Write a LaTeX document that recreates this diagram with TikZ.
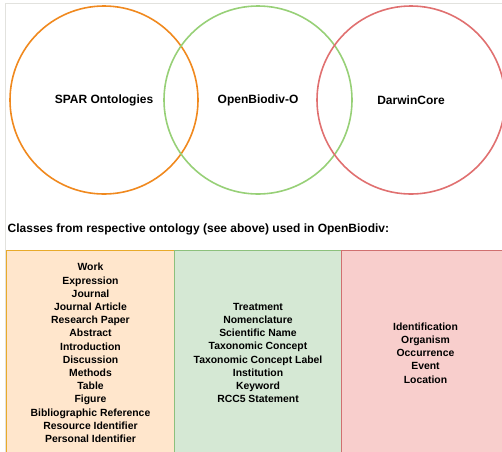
\documentclass[tikz,border=0pt]{standalone}
\usepackage{fontspec}
\setmainfont{Liberation Sans}

\definecolor{framegray}{HTML}{E2E2DE}
\definecolor{sparline}{HTML}{F0891E}
\definecolor{oboline}{HTML}{97D077}
\definecolor{dwcline}{HTML}{E07070}
\definecolor{sparfill}{HTML}{FFE6CC}
\definecolor{sparedge}{HTML}{E8AA2A}
\definecolor{obofill}{HTML}{D5E8D4}
\definecolor{oboedge}{HTML}{8CC07C}
\definecolor{dwcfill}{HTML}{F8CECC}
\definecolor{dwcedge}{HTML}{D07070}

\begin{document}
\begin{tikzpicture}[x=1pt,y=-1pt,
  onto/.style={circle,draw,line width=1.6pt,minimum size=188pt,inner sep=0pt,
    font=\bfseries\fontsize{12}{14}\selectfont},
  classbox/.style={draw,line width=1pt,minimum width=168pt,minimum height=206pt,
    anchor=north west,align=center,inner sep=0pt,
    font=\bfseries\fontsize{10.4}{13.2}\selectfont}]
\useasboundingbox (0,0) rectangle (502,451);
% frame round the ontologies
\draw [framegray,line width=1.5pt] (5.5,460) -- (5.5,3.5) -- (510,3.5);
% the three ontologies
\node [onto,draw=sparline] (spar) at (104,100) {SPAR Ontologies};
\node [onto,draw=oboline] (obo) at (258,100) {OpenBiodiv-O};
\node [onto,draw=dwcline] (dwc) at (411,100) {DarwinCore};
\node [anchor=west,inner sep=0pt,font=\bfseries\fontsize{12}{14}\selectfont] (caption) at (7.5,229)
  {Classes from respective ontology (see above) used in OpenBiodiv:};
% classes per ontology
\node [classbox,fill=sparfill,draw=sparedge] (sparbox) at (6,249.5)
  {Work\\Expression\\Journal\\Journal Article\\Research Paper\\Abstract\\Introduction\\Discussion\\Methods\\Table\\Figure\\Bibliographic Reference\\Resource Identifier\\Personal Identifier};
\node [classbox,fill=obofill,draw=oboedge,minimum width=167pt] (obobox) at (174,249.5)
  {Treatment\\Nomenclature\\Scientific Name\\Taxonomic Concept\\Taxonomic Concept Label\\Institution\\Keyword\\RCC5 Statement};
\node [classbox,fill=dwcfill,draw=dwcedge] (dwcbox) at (341,249.5)
  {Identification\\Organism\\Occurrence\\Event\\Location};
\end{tikzpicture}
\end{document}
